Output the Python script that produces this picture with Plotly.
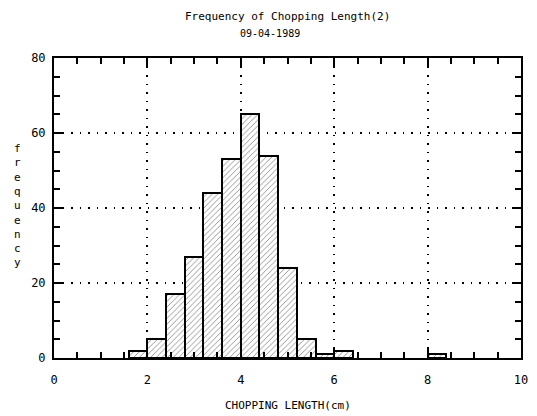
import plotly.graph_objects as go

# Histogram data (bin width 0.4 cm)
bin_left = [1.6, 2.0, 2.4, 2.8, 3.2, 3.6, 4.0, 4.4, 4.8, 5.2, 5.6, 6.0, 8.0]
counts = [2, 5, 17, 27, 44, 53, 65, 54, 24, 5, 1, 2, 1]
bin_width = 0.4

x_ticks = [0, 2, 4, 6, 8, 10]
y_ticks = [0, 20, 40, 60, 80]

title_text = "Frequency of Chopping Length(2)"
date_text = "09-04-1989"
x_title = "CHOPPING LENGTH(cm)"
y_title = "frequency"

mono = "DejaVu Sans Mono, Liberation Mono, monospace"

centers = [b + bin_width / 2 for b in bin_left]

fig = go.Figure()
fig.add_trace(go.Bar(
    x=centers, y=counts, width=bin_width,
    marker=dict(
        color="white",
        line=dict(color="black", width=2),
        pattern=dict(shape="/", fgcolor="black", bgcolor="white", size=4, solidity=0.2),
    ),
    showlegend=False,
))

axis_common = dict(
    showline=True, linecolor="black", linewidth=2, mirror="ticks",
    ticks="inside", tickcolor="black", tickwidth=1.5,
    showgrid=True, gridcolor="black", gridwidth=1.5, griddash="1.5px,7px",
    zeroline=False,
    tickfont=dict(family=mono, size=12, color="black"),
)

fig.update_xaxes(
    range=[0, 10], tickvals=x_ticks, ticklen=9, ticklabelstandoff=10,
    minor=dict(dtick=0.5, ticks="inside", ticklen=6, tickcolor="black", tickwidth=1.5, showgrid=False),
    **axis_common,
)
fig.update_yaxes(
    range=[0, 80], tickvals=y_ticks, ticklen=9, ticklabelstandoff=4,
    minor=dict(dtick=5, ticks="inside", ticklen=6, tickcolor="black", tickwidth=1.5, showgrid=False),
    **axis_common,
)

annotations = [
    dict(text=title_text, x=0.5, y=1, xref="paper", yref="paper", yshift=42,
         showarrow=False, xanchor="center", yanchor="middle",
         font=dict(family=mono, size=11, color="black")),
    dict(text=date_text, x=0.462, y=1, xref="paper", yref="paper", yshift=25,
         showarrow=False, xanchor="center", yanchor="middle",
         font=dict(family=mono, size=10, color="black")),
    dict(text=x_title, x=0.502, y=0, xref="paper", yref="paper", yshift=-47,
         showarrow=False, xanchor="center", yanchor="middle",
         font=dict(family=mono, size=11, color="black")),
    dict(text="<br>".join(list(y_title)), x=0, y=0.51, xref="paper", yref="paper", xshift=-37,
         showarrow=False, xanchor="center", yanchor="middle",
         font=dict(family=mono, size=11, color="black")),
]

fig.update_layout(
    width=537, height=416,
    margin=dict(l=54, r=9, t=58, b=58),
    paper_bgcolor="white", plot_bgcolor="white",
    bargap=0,
    annotations=annotations,
)

fig.write_html("out.html")
